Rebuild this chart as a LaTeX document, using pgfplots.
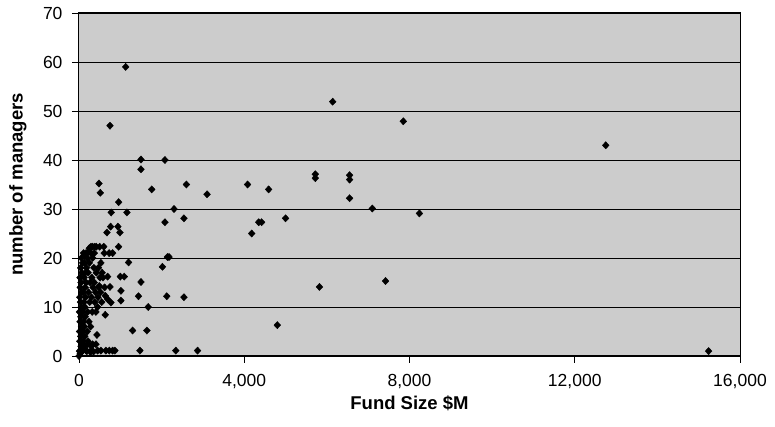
\documentclass[border=0pt]{standalone}
\usepackage{fontspec}
\setmainfont{Liberation Sans}
\usepackage{pgfplots}
\pgfplotsset{compat=1.18}
\definecolor{bg}{RGB}{204,204,204}
\begin{document}
\begin{tikzpicture}
\useasboundingbox (-79pt,-71pt) rectangle (696pt,356pt);
\begin{axis}[
  at={(0pt,0pt)}, anchor=south west,
  scale only axis, width=661pt, height=343pt,
  xmin=0, xmax=16000, ymin=0, ymax=70,
  xtick={0,4000,8000,12000,16000},
  ytick={0,10,...,70},
  scaled x ticks=false,
  /pgf/number format/.cd, 1000 sep={,}, assume math mode=true, /pgfplots/.cd,
  tick align=outside, major tick length=7pt,
  xtick pos=bottom, ytick pos=left,
  tick style={black, line width=0.8pt},
  ymajorgrids, grid style={black, line width=0.9pt},
  axis background/.style={fill=bg},
  axis line style={black, line width=1pt},
  tick label style={font=\fontsize{17.5}{20}\selectfont},
  xticklabel style={yshift=-8pt},
  yticklabel style={xshift=-6pt},
  every axis x label/.style={at={(axis description cs:0.5,0)}, yshift=-47pt, anchor=center, font=\fontsize{18.5}{22}\selectfont\bfseries},
  every axis y label/.style={at={(axis description cs:0,0.5)}, xshift=-61pt, rotate=90, anchor=center, font=\fontsize{18.5}{22}\selectfont\bfseries},
  xlabel={Fund Size \$M},
  ylabel={number of managers},
  clip=false,
]
\addplot[only marks, mark=diamond*, mark size=3.6pt, black, mark options={xscale=1.25}] coordinates {
(0,0) (10,1) (30,0.5) (50,2) (20,3) (40,4) (15,5) (60,6) (25,7) (45,8) (10,9) (55,10)
(35,11) (20,12) (65,13) (30,14) (50,15) (25,16) (70,17) (40,18) (90,19) (60,20) (110,21)
(130,20.5) (80,1) (120,2) (100,3) (140,4) (90,5) (130,6) (110,7) (150,8) (95,9) (140,10)
(120,11) (160,12) (105,13) (150,14) (170,15) (125,16) (155,17) (180,18) (140,19) (200,20)
(170,21) (190,1) (220,3) (200,5) (240,7) (210,9) (260,11) (230,13) (270,15) (220,17)
(250,19) (290,21) (300,2) (280,6) (320,9) (300,12) (340,14) (310,16) (360,18) (330,20)
(380,11) (400,13) (410,9) (370,15) (420,17) (280,0.8) (350,0.9) (250,22) (290,22.3)
(330,22.3) (380,22.3) (420,22.3) (500,22.3) (600,22.3) (958,22.3) (210,21.1) (370,21)
(610,21) (730,21) (815,21) (128,20.4) (90,2.4) (210,2.4) (330,2.4) (410,2.4) (170,1.1)
(290,1.1) (450,1.1) (530,1.1) (650,1.1) (733,1.1) (813,1.1) (870,1.1) (435,4.3) (460,12)
(480,14) (510,16) (470,18) (530,19) (550,11) (580,16) (620,14) (490,14.3) (693,16.2)
(1000,16.2) (1095,16.2) (750,14.1) (1015,13.3) (1015,11.3) (635,12.3) (693,11.6)
(773,10.9) (635,8.4) (560,17) (450,10) (520,13)
(1130,59) (750,47) (2080,40) (1500,40.1) (1500,38.1) (483,35.2) (515,33.3) (1760,34)
(960,31.4) (780,29.3) (1160,29.3) (765,26.4) (942,26.4) (676,25.2) (990,25.2)
(1200,19.1) (2140,20.2) (2180,20.2) (2020,18.2) (1500,15.1) (1440,12.2) (2125,12.2)
(2540,12) (1675,10) (1297,5.2) (1643,5.2) (1475,1.1) (2343,1.1) (2870,1.1)
(2600,35) (3100,33) (4080,35) (4590,34) (5720,37.1) (5720,36.3) (2300,30) (2080,27.3)
(2540,28.1) (4180,25) (4350,27.3) (4420,27.3) (5000,28.1) (5820,14.1) (4800,6.3)
(6140,51.9) (7850,47.9) (6550,36.9) (6550,36) (6550,32.2) (7100,30.1) (8240,29.1)
(7420,15.3) (12750,43) (15240,1)
};
\end{axis}
\end{tikzpicture}
\end{document}
